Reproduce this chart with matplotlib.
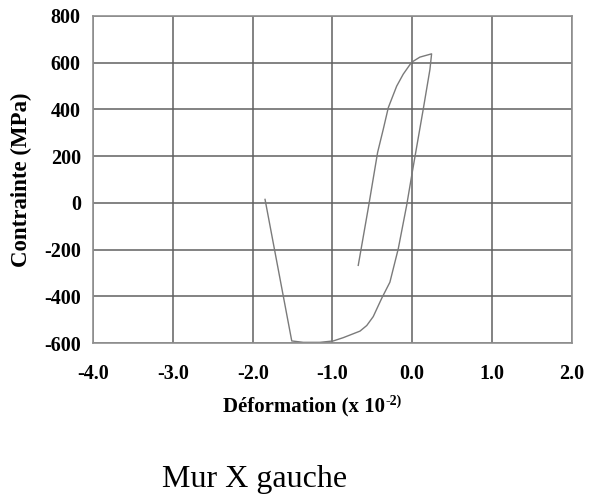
import matplotlib
matplotlib.use("Agg")
import matplotlib.pyplot as plt

plt.rcParams['axes.unicode_minus'] = False

# Strain (x 10^-2) and stress (MPa)
strain = [-0.677, -0.55, -0.434, -0.363, -0.30, -0.25, -0.195, -0.113, -0.008,
          0.096, 0.243, 0.222, 0.138, 0.0, -0.07, -0.175, -0.258, -0.28,
          -0.383, -0.489, -0.57, -0.655, -0.865, -0.99, -1.157, -1.366,
          -1.511, -1.846]
stress = [-267, -20, 216, 315, 407, 451, 499, 550, 601,
          623, 637, 570, 400, 130, -11, -196, -309, -339,
          -408, -486, -524, -548, -576, -590, -596, -596,
          -590, 15]

xticks = [-4.0, -3.0, -2.0, -1.0, 0.0, 1.0, 2.0]
yticks = [-600, -400, -200, 0, 200, 400, 600, 800]

fig = plt.figure(figsize=(5.89, 4.97), dpi=100)
ax = fig.add_axes([0.1584, 0.3093, 0.8122, 0.6591])

ax.plot(strain, stress, color='#7a7a7a', lw=1.0)
ax.set_xlim(-4, 2)
ax.set_ylim(-600, 800)
ax.set_xticks(xticks)
ax.set_yticks(yticks)
ax.set_xticklabels([f"{v:.1f}" for v in xticks])
ax.set_yticklabels([f"{v}" for v in yticks])
ax.grid(True, color='#606060', lw=1.1)
ax.set_axisbelow(True)
for s in ax.spines.values():
    s.set_color('#909090')
    s.set_linewidth(1.2)
ax.tick_params(length=0, labelsize=14.5)
ax.tick_params(axis='x', pad=15)
ax.tick_params(axis='y', pad=9)
for lab in ax.get_xticklabels() + ax.get_yticklabels():
    lab.set_fontfamily('Liberation Serif')
    lab.set_fontweight('bold')

ax.set_ylabel('Contrainte (MPa)', fontfamily='Liberation Serif', fontweight='bold',
              fontsize=16.5)
ax.yaxis.set_label_coords(-0.128, 0.5)

# x label with superscript built from two text pieces
renderer = fig.canvas.get_renderer()
W, H = fig.bbox.width, fig.bbox.height
main = fig.text(0, 0, 'Déformation (x 10', fontfamily='Liberation Serif',
                fontweight='bold', fontsize=15, ha='left', va='baseline')
sup = fig.text(0, 0, '-2)', fontfamily='Liberation Serif', fontweight='bold',
               fontsize=10, ha='left', va='baseline')
w1 = main.get_window_extent(renderer).width
w2 = sup.get_window_extent(renderer).width
cx = 312.5
x0 = cx - (w1 + w2) / 2
base = H - 411.5
main.set_position((x0 / W, base / H))
sup.set_position(((x0 + w1) / W, (base + 7) / H))

fig.text(255 / W, (H - 486.5) / H, 'Mur X gauche', ha='center', va='baseline',
         fontfamily='Liberation Serif', fontsize=23)

fig.savefig('out.png', dpi=100)
